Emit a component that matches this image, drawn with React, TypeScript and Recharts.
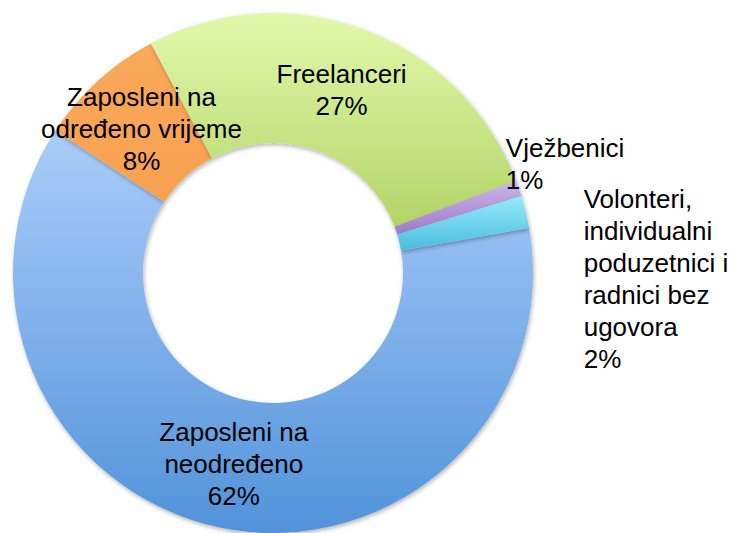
import { PieChart, Pie, Cell } from 'recharts';

const categories = [
  'Zaposleni na neodređeno',
  'Zaposleni na određeno vrijeme',
  'Freelanceri',
  'Vježbenici',
  'Volonteri, individualni poduzetnici i radnici bez ugovora',
];
const shares = [62, 8, 27, 1, 2];
const labelLines = [
  ['Zaposleni na', 'neodređeno', '62%'],
  ['Zaposleni na', 'određeno vrijeme', '8%'],
  ['Freelanceri', '27%'],
  ['Vježbenici', '1%'],
  ['Volonteri,', 'individualni', 'poduzetnici i', 'radnici bez', 'ugovora', '2%'],
];

// gradient stops per slice (top -> bottom)
const gradients = [
  ['#abcdfa', '#5193da'],
  ['#f9a95a', '#f7a150'],
  ['#e2f9ac', '#b2d568'],
  ['#cbb6ec', '#9c7cc6'],
  ['#94ebfa', '#4cbcdc'],
];

// label placement: inside -> middle of ring, outside -> offset from outer edge
const labelPlace = [
  { inside: true },
  { inside: true },
  { inside: true },
  { inside: false, dx: -13, dy: -40 },
  { inside: false, dx: 58, dy: -13 },
];

const data = categories.map((name, i) => ({ name, value: shares[i] }));

const RADIAN = Math.PI / 180;
const LINE_H = 32;

const renderLabel = (props: any) => {
  const { cx, cy, midAngle, innerRadius, outerRadius, index } = props;
  const lines = labelLines[index];
  const place = labelPlace[index];
  const cos = Math.cos(-midAngle * RADIAN);
  const sin = Math.sin(-midAngle * RADIAN);
  if (place.inside) {
    const r = (innerRadius + outerRadius) / 2;
    const x = cx + r * cos;
    const y = cy + r * sin;
    const top = y - ((lines.length - 1) * LINE_H) / 2;
    return (
      <text x={x} y={top} textAnchor="middle" dominantBaseline="central" fill="#000"
        fontSize={26} fontFamily="Liberation Sans, Arial, sans-serif">
        {lines.map((l, i) => (
          <tspan key={i} x={x} y={top + i * LINE_H}>{l}</tspan>
        ))}
      </text>
    );
  }
  const x = cx + outerRadius * cos + (place.dx ?? 0);
  const y = cy + outerRadius * sin + (place.dy ?? 0);
  return (
    <text x={x} y={y} textAnchor="start" dominantBaseline="central" fill="#000"
      fontSize={26} fontFamily="Liberation Sans, Arial, sans-serif">
      {lines.map((l, i) => (
        <tspan key={i} x={x} y={y + i * LINE_H}>{l}</tspan>
      ))}
    </text>
  );
};

export default function App() {
  return (
    <div style={{ position: 'absolute', left: 0, top: 0, width: 733, height: 533, background: '#fff' }}>
      <PieChart width={733} height={533} margin={{ top: 0, right: 0, bottom: 0, left: 0 }}>
        <defs>
          {gradients.map((g, i) => (
            <linearGradient key={i} id={`grad${i}`} x1="0" y1="0" x2="0" y2="1">
              <stop offset="0%" stopColor={g[0]} />
              <stop offset="100%" stopColor={g[1]} />
            </linearGradient>
          ))}
          <filter id="shadow" x="-10%" y="-10%" width="120%" height="120%">
            <feDropShadow dx="1" dy="2" stdDeviation="2" floodColor="#000" floodOpacity="0.3" />
          </filter>
        </defs>
        <Pie
          data={data}
          dataKey="value"
          nameKey="name"
          cx={273}
          cy={273}
          innerRadius={130}
          outerRadius={260}
          startAngle={10}
          endAngle={-350}
          stroke="none"
          labelLine={false}
          label={renderLabel}
          isAnimationActive={false}
          style={{ filter: 'url(#shadow)' }}
        >
          {data.map((d, i) => (
            <Cell key={d.name} fill={`url(#grad${i})`} />
          ))}
        </Pie>
      </PieChart>
    </div>
  );
}
